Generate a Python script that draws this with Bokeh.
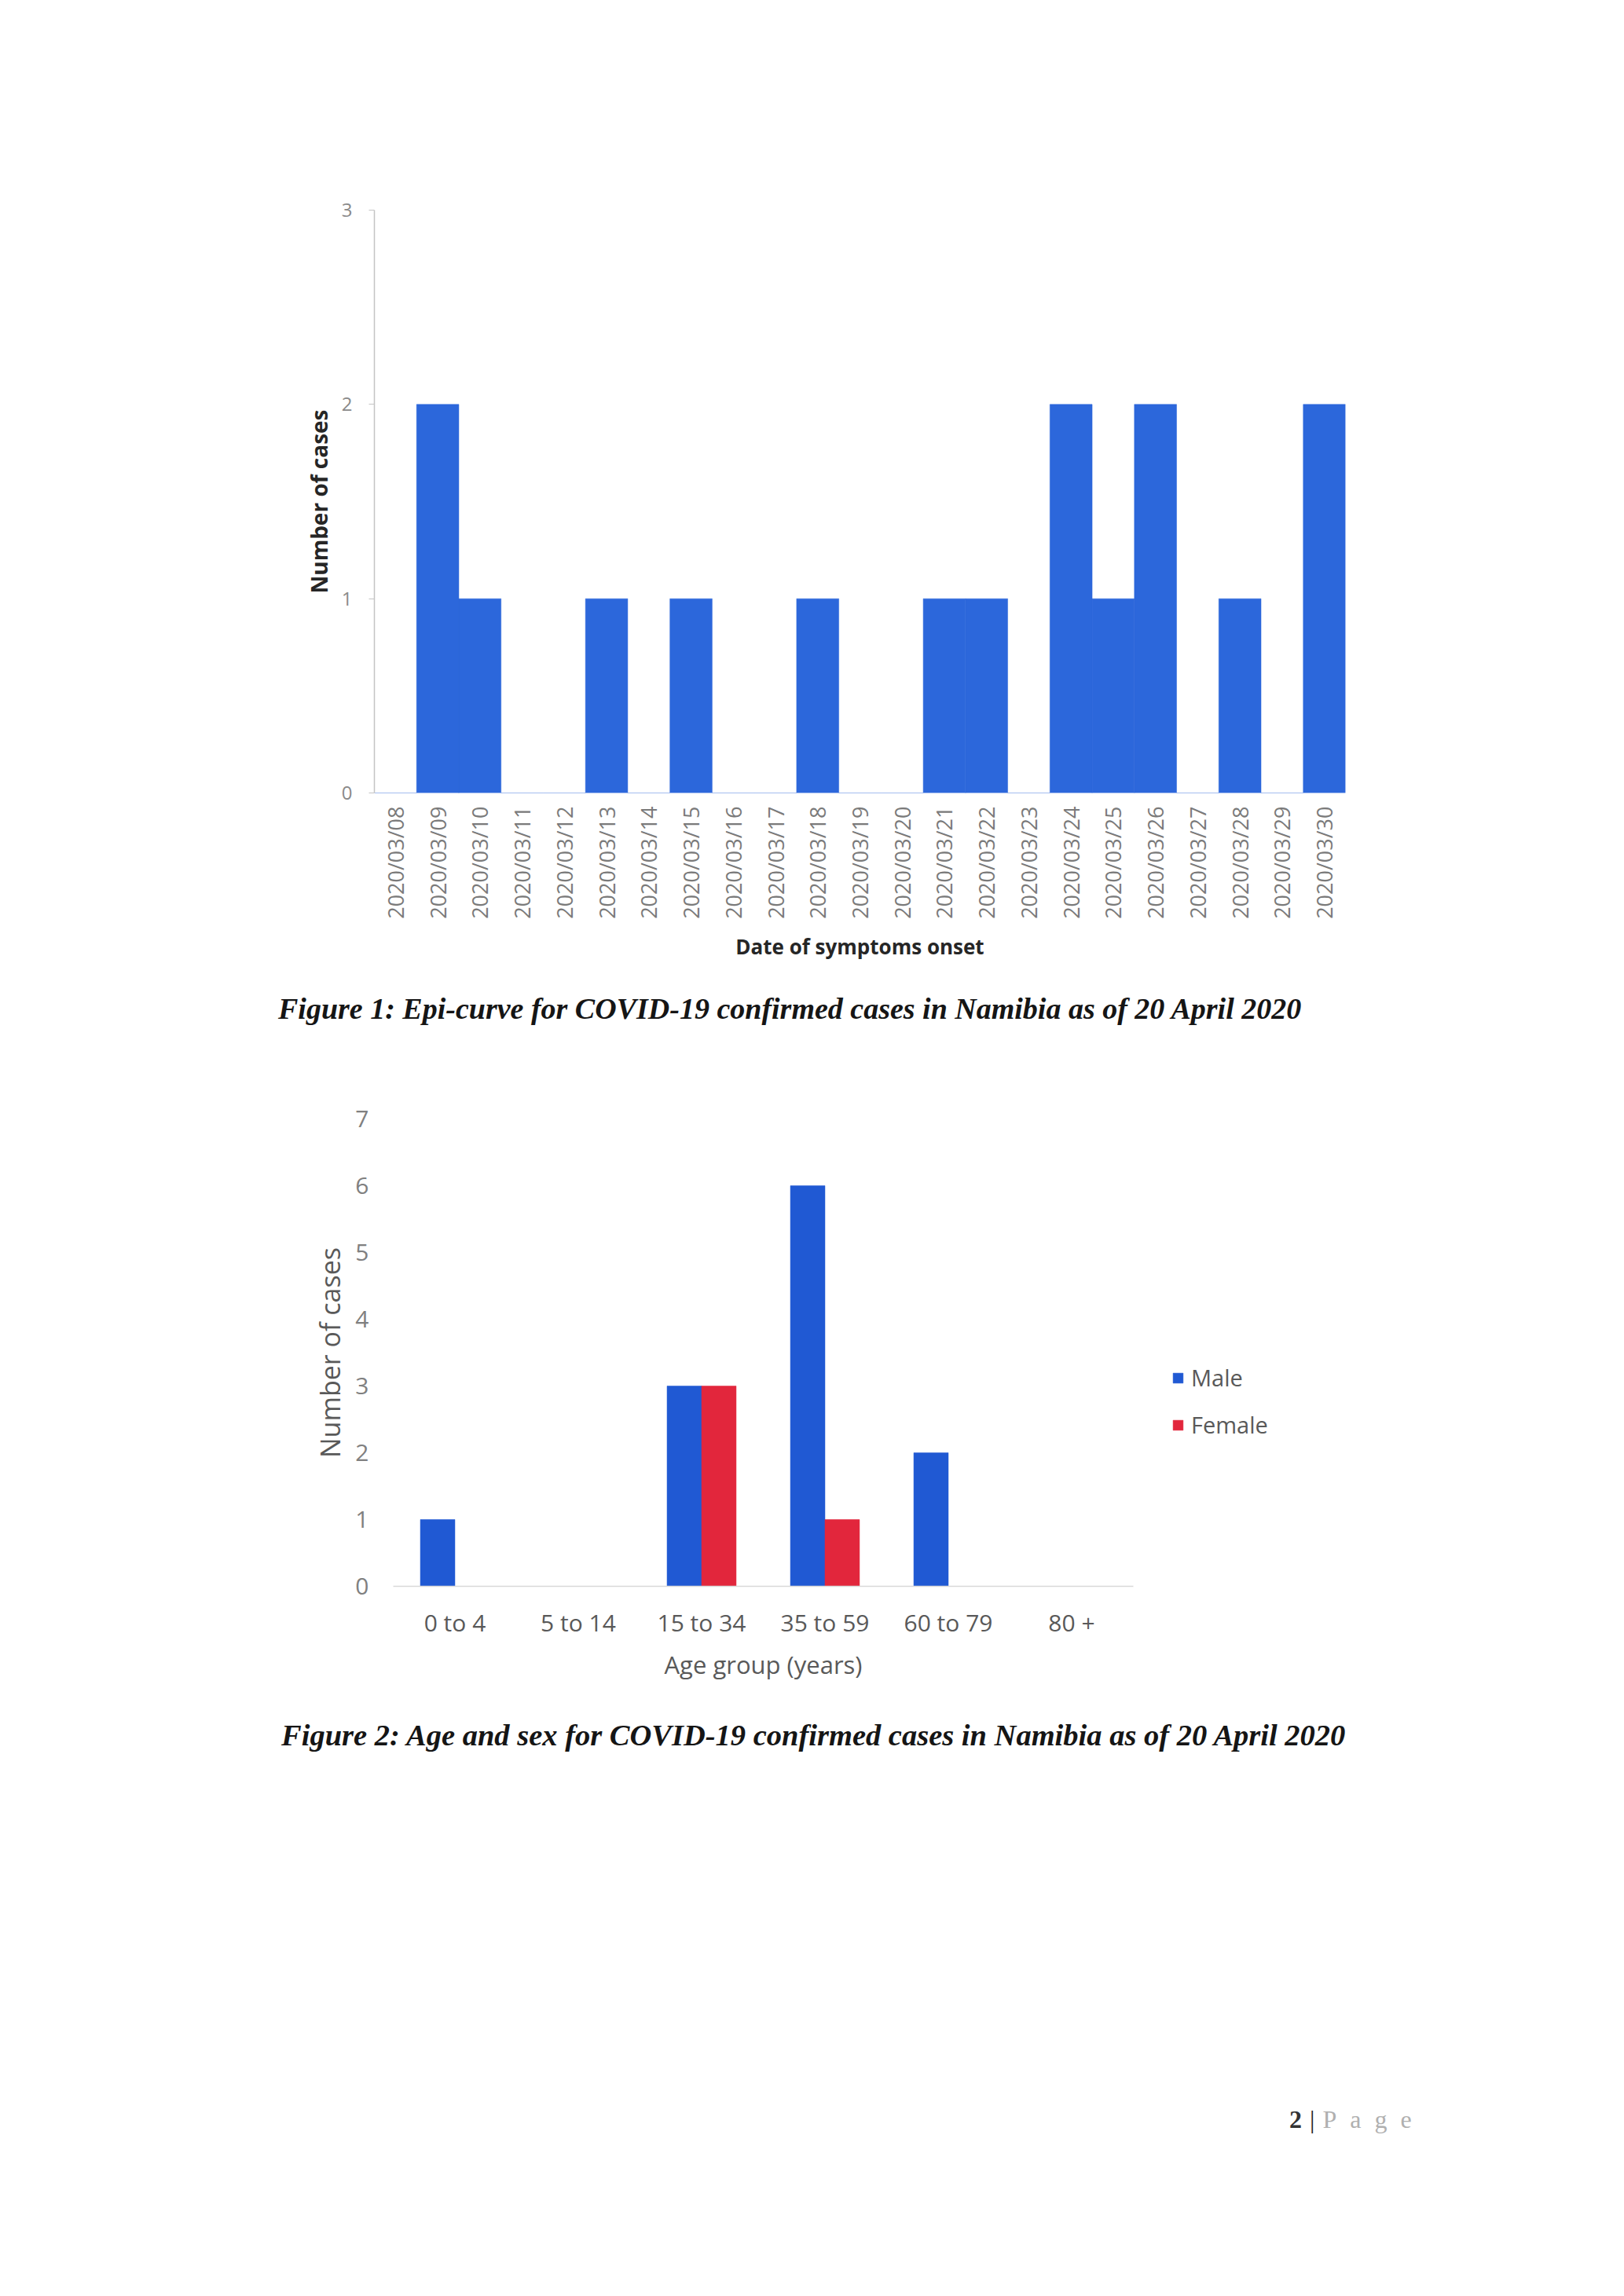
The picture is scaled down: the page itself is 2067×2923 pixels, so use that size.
import math
from bokeh.plotting import figure
from bokeh.models import FactorRange, Range1d, Div, Legend, LegendItem, FixedTicker
from bokeh.transform import dodge
from bokeh.embed import file_html
from bokeh.resources import INLINE

# ---------------- data ----------------
onset_dates = ["2020/03/08", "2020/03/09", "2020/03/10", "2020/03/11", "2020/03/12",
               "2020/03/13", "2020/03/14", "2020/03/15", "2020/03/16", "2020/03/17",
               "2020/03/18", "2020/03/19", "2020/03/20", "2020/03/21", "2020/03/22",
               "2020/03/23", "2020/03/24", "2020/03/25", "2020/03/26", "2020/03/27",
               "2020/03/28", "2020/03/29", "2020/03/30"]
onset_cases = [0, 2, 1, 0, 0, 1, 0, 1, 0, 0, 1, 0, 0, 1, 1, 0, 2, 1, 2, 0, 1, 0, 2]
epi_ticks = [0, 1, 2, 3]

age_groups = ["0 to 4", "5 to 14", "15 to 34", "35 to 59", "60 to 79", "80 +"]
male_cases = [1, 0, 3, 6, 2, 0]
female_cases = [0, 0, 3, 1, 0, 0]
age_ticks = [0, 1, 2, 3, 4, 5, 6, 7]

caption1 = "Figure 1: Epi-curve for COVID-19 confirmed cases in Namibia as of 20 April 2020"
caption2 = "Figure 2: Age and sex for COVID-19 confirmed cases in Namibia as of 20 April 2020"

FONT = "Open Sans"
BLUE1 = "#2c67db"
BLUE2 = "#2059d3"
RED = "#e2263c"
W = 2060

# ---------------- figure 1 ----------------
p1 = figure(width=W, height=1230,
            x_range=FactorRange(*onset_dates, range_padding=0),
            y_range=Range1d(0, 3),
            output_backend="svg", toolbar_location=None,
            min_border_left=476, min_border_right=W - 1712,
            min_border_top=267, min_border_bottom=221)
p1.vbar(x=onset_dates, top=onset_cases, width=1.0,
        fill_color=BLUE1, line_color=BLUE1, line_width=0.5)
p1.xgrid.visible = False
p1.ygrid.visible = False
p1.outline_line_color = None

xa = p1.xaxis[0]
xa.axis_line_color = None
xa.major_tick_line_color = None
xa.major_tick_out = 0
xa.major_tick_in = 0
xa.major_label_orientation = math.pi / 2
xa.major_label_standoff = 17
xa.major_label_text_font = FONT
xa.major_label_text_font_size = "27px"
xa.major_label_text_color = "#7a7a7a"
xa.axis_label = "Date of symptoms onset"
xa.axis_label_text_font = FONT
xa.axis_label_text_font_style = "bold"
xa.axis_label_text_font_size = "26px"
xa.axis_label_text_color = "#262626"
xa.axis_label_standoff = 14

ya = p1.yaxis[0]
ya.ticker = FixedTicker(ticks=epi_ticks)
ya.axis_line_color = "#c4c4c4"
ya.axis_line_width = 1.5
ya.major_tick_line_color = "#c4c4c4"
ya.major_tick_out = 7
ya.major_tick_in = 0
ya.minor_tick_line_color = None
ya.major_label_standoff = 21
ya.major_label_text_font = FONT
ya.major_label_text_font_size = "24px"
ya.major_label_text_color = "#8a8a8a"
ya.axis_label = "Number of cases"
ya.axis_label_text_font = FONT
ya.axis_label_text_font_style = "bold"
ya.axis_label_text_font_size = "28px"
ya.axis_label_text_color = "#262626"
ya.axis_label_standoff = 7

# ---------------- captions ----------------
cap_style = ("font-family:'Liberation Serif';font-style:italic;font-weight:bold;"
             "line-height:48px;color:#151515;white-space:nowrap;")
div1 = Div(text=f'<div style="padding-left:354px;padding-top:30px;font-size:38px;{cap_style}">{caption1}</div>',
           width=W, height=100, margin=(0, 0, 0, 0))

# ---------------- figure 2 ----------------
p2 = figure(width=W, height=830,
            x_range=FactorRange(*age_groups, range_padding=0),
            y_range=Range1d(0, 7),
            output_backend="svg", toolbar_location=None,
            min_border_left=500, min_border_right=W - 1442,
            min_border_top=94, min_border_bottom=141)
src = dict(age=age_groups, male=male_cases, female=female_cases)
rm = p2.vbar(x=dodge("age", -0.14, range=p2.x_range), top="male", width=0.28,
             source=src, fill_color=BLUE2, line_color=BLUE2, line_width=0.5)
rf = p2.vbar(x=dodge("age", 0.14, range=p2.x_range), top="female", width=0.28,
             source=src, fill_color=RED, line_color=RED, line_width=0.5)
p2.xgrid.visible = False
p2.ygrid.visible = False
p2.outline_line_color = None

xb = p2.xaxis[0]
xb.axis_line_color = "#d9d9d9"
xb.axis_line_width = 1.5
xb.major_tick_line_color = None
xb.major_tick_out = 0
xb.major_tick_in = 0
xb.major_label_standoff = 25
xb.major_label_text_font = FONT
xb.major_label_text_font_size = "30px"
xb.major_label_text_color = "#595959"
xb.axis_label = "Age group (years)"
xb.axis_label_text_font = FONT
xb.axis_label_text_font_style = "normal"
xb.axis_label_text_font_size = "31px"
xb.axis_label_text_color = "#595959"
xb.axis_label_standoff = 9

yb = p2.yaxis[0]
yb.ticker = FixedTicker(ticks=age_ticks)
yb.axis_line_color = None
yb.major_tick_line_color = None
yb.minor_tick_line_color = None
yb.major_tick_out = 0
yb.major_tick_in = 0
yb.major_label_standoff = 31
yb.major_label_text_font = FONT
yb.major_label_text_font_size = "30px"
yb.major_label_text_color = "#808080"
yb.axis_label = "Number of cases"
yb.axis_label_text_font = FONT
yb.axis_label_text_font_style = "normal"
yb.axis_label_text_font_size = "34px"
yb.axis_label_text_color = "#595959"
yb.axis_label_standoff = 6

legend = Legend(items=[LegendItem(label="Male", renderers=[rm]),
                       LegendItem(label="Female", renderers=[rf])],
                location=(49, 186), orientation="vertical",
                padding=0, margin=0, spacing=21,
                glyph_width=16, glyph_height=16, label_height=36,
                label_standoff=9,
                label_text_font=FONT, label_text_font_size="29px",
                label_text_color="#595959",
                border_line_color=None, background_fill_alpha=0)
p2.add_layout(legend, "right")

div2 = Div(text=f'<div style="padding-left:358px;padding-top:25px;font-size:38.5px;{cap_style}">{caption2}</div>',
           width=W, height=100, margin=(0, 0, 0, 0))

page_html = ('<div style="padding-left:1641px;padding-top:420px;font-family:\'Liberation Serif\';'
             'font-size:32px;line-height:36px;white-space:nowrap;">'
             '<b style="color:#333">2</b>'
             '<span style="color:#222;margin-left:10px">|</span>'
             '<span style="color:#b0b0b0;margin-left:10px;letter-spacing:17px">Page</span></div>')
div3 = Div(text=page_html, width=W, height=480, margin=(0, 0, 0, 0))

open("out.html", "w").write(file_html([p1, div1, p2, div2, div3], INLINE))
